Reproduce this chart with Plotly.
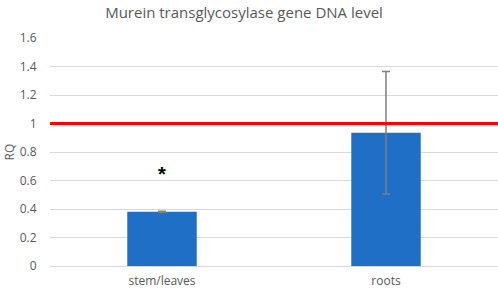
import plotly.graph_objects as go

categories = ["stem/leaves", "roots"]
rq_values = [0.38, 0.935]
rq_errors = [0.005, 0.43]
reference_level = 1.0
significance_marks = ["*", ""]
significance_y = [0.645, None]
y_ticks = [0, 0.2, 0.4, 0.6, 0.8, 1, 1.2, 1.4, 1.6]

fig = go.Figure()
fig.add_trace(go.Bar(
    x=categories, y=rq_values,
    marker=dict(color="#1f6fc6", line=dict(width=0)),
    width=0.31,
    error_y=dict(type="data", array=rq_errors, visible=True,
                 color="#7f7f7f", thickness=1.5, width=4),
    showlegend=False,
))
for c, m, yv in zip(categories, significance_marks, significance_y):
    if m:
        fig.add_annotation(x=c, y=yv, text="<b>" + m + "</b>", showarrow=False,
                           font=dict(size=20, color="black", family="Liberation Sans"),
                           yanchor="middle")
fig.add_shape(type="line", xref="paper", x0=0, x1=1, yref="y",
              y0=reference_level, y1=reference_level,
              line=dict(color="#ff0000", width=3))

fig.update_layout(
    width=498, height=290,
    margin=dict(l=50, r=0, t=38, b=24, autoexpand=False),
    paper_bgcolor="white", plot_bgcolor="white",
    font=dict(family="Open Sans", color="#595959", size=12),
    title=dict(text="Murein transglycosylase gene DNA level",
               x=0.49, xanchor="center", y=1 - 13/290, yref="container",
               yanchor="middle", font=dict(size=15, color="#595959")),
    bargap=0.69,
)
fig.update_yaxes(range=[0, 1.6], tickvals=y_ticks, showgrid=True,
                 gridcolor="#d9d9d9", gridwidth=1, zeroline=True,
                 zerolinecolor="#d9d9d9", zerolinewidth=1,
                 ticks="outside", ticklen=10, tickcolor="rgba(0,0,0,0)",
                 automargin=False,
                 title=dict(text="RQ", standoff=2, font=dict(size=12)),
                 tickfont=dict(size=12))
fig.update_xaxes(showline=False, ticks="outside", ticklen=4, automargin=False,
                 tickcolor="rgba(0,0,0,0)", tickfont=dict(size=12))

fig.write_html("out.html", config={"displayModeBar": False},
               post_script="document.body.style.margin='0';document.body.style.padding='0';")
